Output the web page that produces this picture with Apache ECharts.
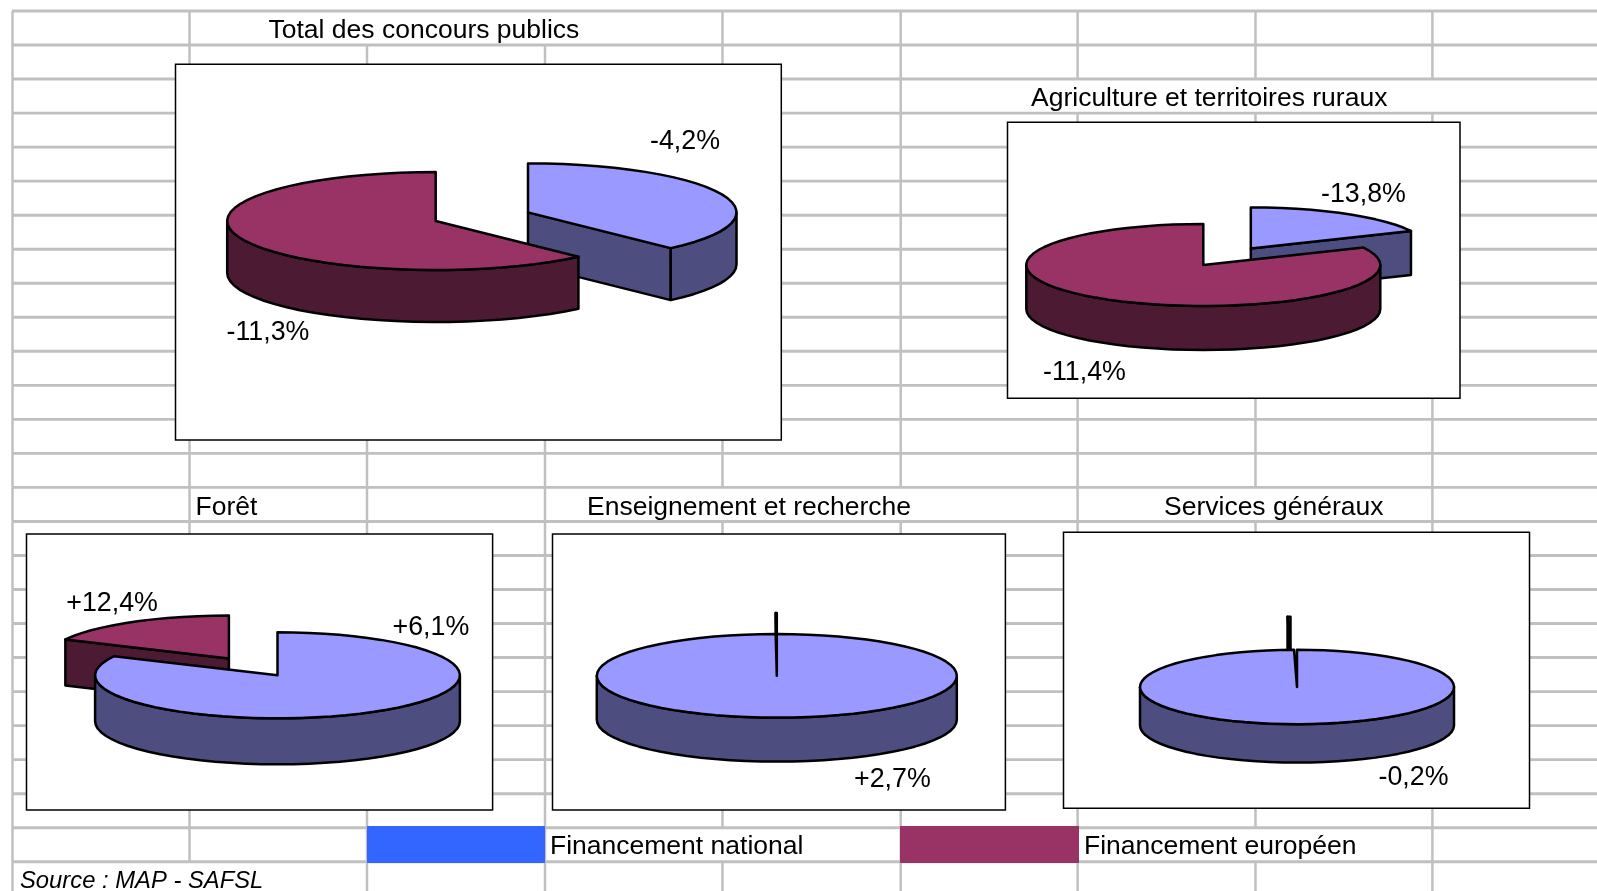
<!DOCTYPE html>
<html><head><meta charset="utf-8">
<style>html,body{margin:0;padding:0;background:#fff}#c{width:1597px;height:891px}</style>
<script src="https://cdn.jsdelivr.net/npm/echarts@6/dist/echarts.min.js"></script>
</head><body><div id="c"></div>
<script>
// ---- data ----
const pieTitles = ['Total des concours publics','Agriculture et territoires ruraux','Forêt','Enseignement et recherche','Services généraux'];
const nationalShare = [38.0, 18.0, 82.3, 99.9, 99.7];
const europeanShare = [62.0, 82.0, 17.7, 0.1, 0.3];
const nationalLabels = ['-4,2%','-13,8%','+6,1%','+2,7%','-0,2%'];
const europeanLabels = ['-11,3%','-11,4%','+12,4%','',''];
const seriesNames = ['Financement national','Financement européen'];
const sourceNote = 'Source : MAP - SAFSL';

// ---- layout and styles ----
const FONT = '"Liberation Sans", Arial, sans-serif';
const FS = 26.5;
const layout = [
 {cx:435.7,cy:221,rx:208.5,ry:49,depth:52,off:[[92.3,-8.6],[0,0]],frame:[175.5,64.3,781.3,440],title:[268.5,30.5],lab:[[650,141.5],[226.5,333]]},
 {cx:1203.3,cy:265,rx:177,ry:41,depth:44,off:[[47.5,-16.6],[0,0]],frame:[1007.5,122.3,1460,398.3],title:[1031,98.5],lab:[[1321,195],[1043,373]]},
 {cx:277.5,cy:675.3,rx:182.4,ry:43,depth:46,off:[[0,0],[-48.6,-16.8]],frame:[26.5,534,492.6,810],title:[195.5,507.5],lab:[[392.5,628],[66.3,603.7]]},
 {cx:776.8,cy:675.8,rx:180,ry:41.8,depth:44,off:[[0,0],[0,-21]],frame:[552.5,534,1005.4,810],title:[587,507.5],lab:[[854,780],null]},
 {cx:1297,cy:687,rx:157,ry:37.2,depth:38.4,off:[[0,0],[-6.5,-33]],frame:[1063.5,532.3,1529.5,808.3],title:[1164,507.5],lab:[[1378.5,778],null]}
];
const topColors = ['#9999ff','#993366'];
const wallColors = ['#4d4d80','#4d1a33'];
const legendColors = ['#3366ff','#993366'];
const colEdges = [12.5,189.5,367,545,722.5,900.7,1077.6,1255.5,1432.4];
const rowEdge = r => 11 + 34.03 * r;
const hiddenCells = {0:[367,545],2:[1077.6,1255.5,1432.4],14:[722.5,900.7,1255.5],24:[722.5,1255.5],25:[189.5]};

const hLines = [], vLines = [];
for (let r = 0; r < 26; r++) {
  hLines.push([12, rowEdge(r), 1597, rowEdge(r)]);
  colEdges.forEach(x => {
    if (!(hiddenCells[r] || []).includes(x)) vLines.push([x, rowEdge(r), x, Math.min(rowEdge(r + 1), 891)]);
  });
}

const rad = d => d * Math.PI / 180;
function ring(p, a, b, cx, cy, dy) {
  const pts = [], step = 5, n = Math.max(1, Math.ceil(Math.abs(b - a) / step));
  for (let i = 0; i <= n; i++) {
    const t = rad(a + (b - a) * i / n);
    pts.push(p([cx + p.rx * Math.sin(t), cy - p.ry * Math.cos(t) + dy]));
  }
  return pts;
}

function sliceRenderer(sIdx) {
  return function (params, api) {
    const i = api.value(0), L = layout[i];
    const start = sIdx === 0 ? 0 : nationalShare[i] * 3.6;
    const end = start + api.value(1) * 3.6;
    const cx = L.cx + L.off[sIdx][0], cy = L.cy + L.off[sIdx][1];
    const exploded = L.off[sIdx][0] !== 0 || L.off[sIdx][1] !== 0;
    const z2 = exploded ? 1 : 2;
    const p = pt => api.coord(pt); p.rx = L.rx; p.ry = L.ry;
    const ink = {stroke:'#000', lineWidth:2.5, lineJoin:'round'};
    const children = [];
    const apex = p([cx, cy]), apexB = p([cx, cy + L.depth]);
    const face = th => ({type:'polygon', z2, shape:{points:[apex, ring(p,th,th,cx,cy,0)[0], ring(p,th,th,cx,cy,L.depth)[0], apexB]},
      style:Object.assign({fill:wallColors[sIdx]}, ink)});
    if (Math.sin(rad(start)) < -1e-6) children.push(face(start));
    if (Math.sin(rad(end)) > 1e-6) children.push(face(end));
    const wa = Math.max(start, 90), wb = Math.min(end, 270);
    if (wb > wa) {
      children.push({type:'polygon', z2, shape:{points:ring(p,wa,wb,cx,cy,0).concat(ring(p,wb,wa,cx,cy,L.depth))},
        style:Object.assign({fill:wallColors[sIdx]}, ink)});
    }
    children.push({type:'polygon', z2, shape:{points:[apex].concat(ring(p,start,end,cx,cy,0))},
      style:Object.assign({fill:topColors[sIdx]}, ink)});
    const txt = (sIdx === 0 ? nationalLabels : europeanLabels)[i];
    if (txt && L.lab[sIdx]) {
      const q = p(L.lab[sIdx]);
      children.push({type:'text', z2:3, style:{x:q[0], y:q[1], text:txt, fill:'#000', font:'26.8px '+FONT, textAlign:'left', textVerticalAlign:'middle'}});
    }
    return {type:'group', children};
  };
}

const lineSeries = (rows, width) => ({
  type:'custom', silent:true, z:1, clip:false, data:rows,
  renderItem:(pr, api) => {
    const a = api.coord([api.value(0), api.value(1)]), b = api.coord([api.value(2), api.value(3)]);
    return {type:'line', shape:{x1:a[0],y1:a[1],x2:b[0],y2:b[1]}, style:{stroke:'#c0c0c0', lineWidth:width}};
  }
});

const option = {
  animation:false,
  backgroundColor:'#fff',
  grid:{left:0, top:0, width:1597, height:891},
  xAxis:{type:'value', min:0, max:1597, show:false},
  yAxis:{type:'value', min:0, max:891, inverse:true, show:false},
  title: pieTitles.map((t, i) => ({
    text:t, left:layout[i].title[0], top:layout[i].title[1] - 15, padding:0,
    textStyle:{fontFamily:FONT, fontSize:FS, fontWeight:'normal', color:'#000', lineHeight:30}
  })).concat([{
    text:sourceNote, left:20, top:866, padding:0,
    textStyle:{fontFamily:FONT, fontSize:23.8, fontStyle:'italic', fontWeight:'normal', color:'#000', lineHeight:30}
  }]),
  legend: seriesNames.map((n, i) => ({
    left:[367, 900][i], top:826, padding:0, itemWidth:[178,179][i], itemHeight:37, selectedMode:false,
    data:[{name:n, icon:'rect', itemStyle:{color:legendColors[i]}}],
    formatter:'{a|{name}}',
    textStyle:{fontFamily:FONT, fontSize:FS, color:'#000',
      rich:{a:{fontFamily:FONT, fontSize:FS, color:'#000', padding:[5,0,0,0]}}}
  })),
  series:[
    lineSeries(hLines, 2.9),
    lineSeries(vLines, 2.5),
    {type:'custom', silent:true, z:2, clip:false, data:layout.map(L => L.frame),
     renderItem:(pr, api) => {
       const a = api.coord([api.value(0), api.value(1)]), b = api.coord([api.value(2), api.value(3)]);
       return {type:'rect', shape:{x:a[0],y:a[1],width:b[0]-a[0],height:b[1]-a[1]}, style:{fill:'#fff', stroke:'#000', lineWidth:1.5}};
     }},
    {type:'custom', name:seriesNames[0], silent:true, z:3, clip:false, color:legendColors[0],
     data:nationalShare.map((v, i) => [i, v]), renderItem:sliceRenderer(0)},
    {type:'custom', name:seriesNames[1], silent:true, z:3, clip:false, color:legendColors[1],
     data:europeanShare.map((v, i) => [i, v]), renderItem:sliceRenderer(1)}
  ]
};
echarts.init(document.getElementById('c')).setOption(option);
</script></body></html>
